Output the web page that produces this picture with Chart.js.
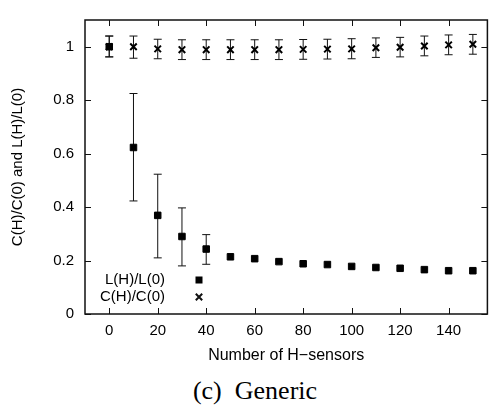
<!DOCTYPE html>
<html>
<head>
<meta charset="utf-8">
<script src="https://cdn.jsdelivr.net/npm/chart.js@4/dist/chart.umd.min.js"></script>
<style>
    body { margin: 0; background: #fff; }
    #wrap { position: relative; width: 494px; height: 412px; }
    #caption {
        position: absolute; left: 0; top: 376px; width: 510px;
        text-align: center; font-family: "Liberation Serif", serif; font-size: 26px; color: #000;
        white-space: pre;
    }
</style>
</head>
<body>
<div id="wrap">
    <canvas id="chart" width="494" height="370"></canvas>
    <div id="caption">(c)  Generic</div>
</div>
<script>
// number of H-sensors
const sensors = [0, 10, 20, 30, 40, 50, 60, 70, 80, 90, 100, 110, 120, 130, 140, 150];

// L(H)/L(0)
const lRatio = [1.0, 0.623, 0.369, 0.29, 0.243, 0.214, 0.207, 0.196, 0.188, 0.185, 0.178, 0.174, 0.171, 0.166, 0.162, 0.162];
const lLow   = [0.962, 0.423, 0.21, 0.18, 0.186, null, null, null, null, null, null, null, null, null, null, null];
const lHigh  = [1.04, 0.825, 0.523, 0.397, 0.297, null, null, null, null, null, null, null, null, null, null, null];

// C(H)/C(0)
const cRatio = [1.0, 1.0, 0.992, 0.989, 0.989, 0.989, 0.989, 0.989, 0.99, 0.991, 0.992, 0.996, 0.998, 1.003, 1.007, 1.009];
const cLow   = [0.962, 0.957, 0.955, 0.952, 0.952, 0.952, 0.952, 0.952, 0.953, 0.954, 0.955, 0.96, 0.962, 0.966, 0.97, 0.972];
const cHigh  = [1.04, 1.04, 1.028, 1.026, 1.026, 1.026, 1.026, 1.026, 1.027, 1.028, 1.03, 1.033, 1.035, 1.04, 1.044, 1.046];

const xTicks = [0, 20, 40, 60, 80, 100, 120, 140];
const yTicks = [0, 0.2, 0.4, 0.6, 0.8, 1];

const FONT = "Liberation Sans";

function toPoints(xs, ys) {
    return xs.map((x, i) => ({ x: x, y: ys[i] }));
}

const errorBars = {
    id: "errorBars",
    beforeDatasetsDraw(chart) {
        const ctx = chart.ctx;
        const xs = chart.scales.x, ys = chart.scales.y;
        const sets = [[lLow, lHigh], [cLow, cHigh]];
        ctx.save();
        ctx.strokeStyle = "#111";
        ctx.lineWidth = 1;
        sets.forEach(([lo, hi]) => {
            sensors.forEach((s, i) => {
                if (lo[i] == null) return;
                const px = xs.getPixelForValue(s);
                const y1 = ys.getPixelForValue(lo[i]);
                const y2 = ys.getPixelForValue(hi[i]);
                ctx.beginPath();
                ctx.moveTo(px, y1); ctx.lineTo(px, y2);
                ctx.moveTo(px - 4, y1); ctx.lineTo(px + 4, y1);
                ctx.moveTo(px - 4, y2); ctx.lineTo(px + 4, y2);
                ctx.stroke();
            });
        });
        ctx.restore();
    }
};

const frame = {
    id: "frame",
    afterDatasetsDraw(chart) {
        const ctx = chart.ctx;
        const a = chart.chartArea;
        const xs = chart.scales.x, ys = chart.scales.y;
        ctx.save();
        ctx.strokeStyle = "#111";
        ctx.lineWidth = 1;
        ctx.beginPath();
        xTicks.forEach(v => {
            const px = Math.round(xs.getPixelForValue(v)) + 0.5;
            ctx.moveTo(px, a.bottom); ctx.lineTo(px, a.bottom - 6);
            ctx.moveTo(px, a.top); ctx.lineTo(px, a.top + 6);
        });
        yTicks.forEach(v => {
            const py = Math.round(ys.getPixelForValue(v)) + 0.5;
            ctx.moveTo(a.left, py); ctx.lineTo(a.left + 6, py);
            ctx.moveTo(a.right, py); ctx.lineTo(a.right - 6, py);
        });
        ctx.stroke();
        ctx.lineWidth = 1.5;
        ctx.strokeRect(a.left, a.top, a.right - a.left, a.bottom - a.top);

        // key, bottom left inside the plot
        ctx.fillStyle = "#000";
        ctx.font = "15px " + FONT;
        ctx.textAlign = "right";
        ctx.textBaseline = "middle";
        const tx = a.left + 80, sx = a.left + 114;
        const y1 = a.bottom - 34, y2 = a.bottom - 17;
        ctx.fillText(chart.data.datasets[0].label, tx, y1);
        ctx.fillText(chart.data.datasets[1].label, tx, y2);
        ctx.fillRect(sx - 3.5, y1 - 3.5, 7, 7);
        ctx.lineWidth = 2;
        ctx.beginPath();
        ctx.moveTo(sx - 3.2, y2 - 3.2); ctx.lineTo(sx + 3.2, y2 + 3.2);
        ctx.moveTo(sx - 3.2, y2 + 3.2); ctx.lineTo(sx + 3.2, y2 - 3.2);
        ctx.stroke();
        ctx.restore();
    }
};

const ctx = document.getElementById("chart").getContext("2d");
new Chart(ctx, {
    type: "scatter",
    data: {
        datasets: [
            {
                label: "L(H)/L(0)",
                data: toPoints(sensors, lRatio),
                pointStyle: "rect",
                pointRadius: 4.6,
                backgroundColor: "#000",
                borderColor: "#000",
                borderWidth: 1
            },
            {
                label: "C(H)/C(0)",
                data: toPoints(sensors, cRatio),
                pointStyle: "crossRot",
                pointRadius: 4.6,
                backgroundColor: "#000",
                borderColor: "#000",
                borderWidth: 2
            }
        ]
    },
    options: {
        responsive: false,
        animation: false,
        layout: { padding: { top: 9, right: 4, left: 0, bottom: 0 } },
        plugins: {
            legend: { display: false },
            tooltip: { enabled: false }
        },
        scales: {
            x: {
                type: "linear",
                min: -10,
                max: 156,
                afterBuildTicks: scale => { scale.ticks = xTicks.map(v => ({ value: v })); },
                afterFit: scale => { scale.height = 56; },
                grid: { display: false, drawTicks: false },
                border: { display: false },
                ticks: { color: "#000", font: { family: FONT, size: 15 }, padding: 8, maxRotation: 0 },
                title: {
                    display: true,
                    text: "Number of H\u2212sensors",
                    color: "#000",
                    font: { family: FONT, size: 16 },
                    padding: { top: 5, bottom: 5 }
                }
            },
            y: {
                min: 0,
                max: 1.1,
                afterBuildTicks: scale => { scale.ticks = yTicks.map(v => ({ value: v })); },
                afterFit: scale => { scale.width = 85; },
                grid: { display: false, drawTicks: false },
                border: { display: false },
                ticks: {
                    color: "#000",
                    font: { family: FONT, size: 15 },
                    padding: 11,
                    callback: v => String(v)
                },
                title: {
                    display: true,
                    text: "C(H)/C(0) and L(H)/L(0)",
                    color: "#000",
                    font: { family: FONT, size: 15 },
                    padding: { top: 9, bottom: 9 }
                }
            }
        }
    },
    plugins: [errorBars, frame]
});
</script>
</body>
</html>
